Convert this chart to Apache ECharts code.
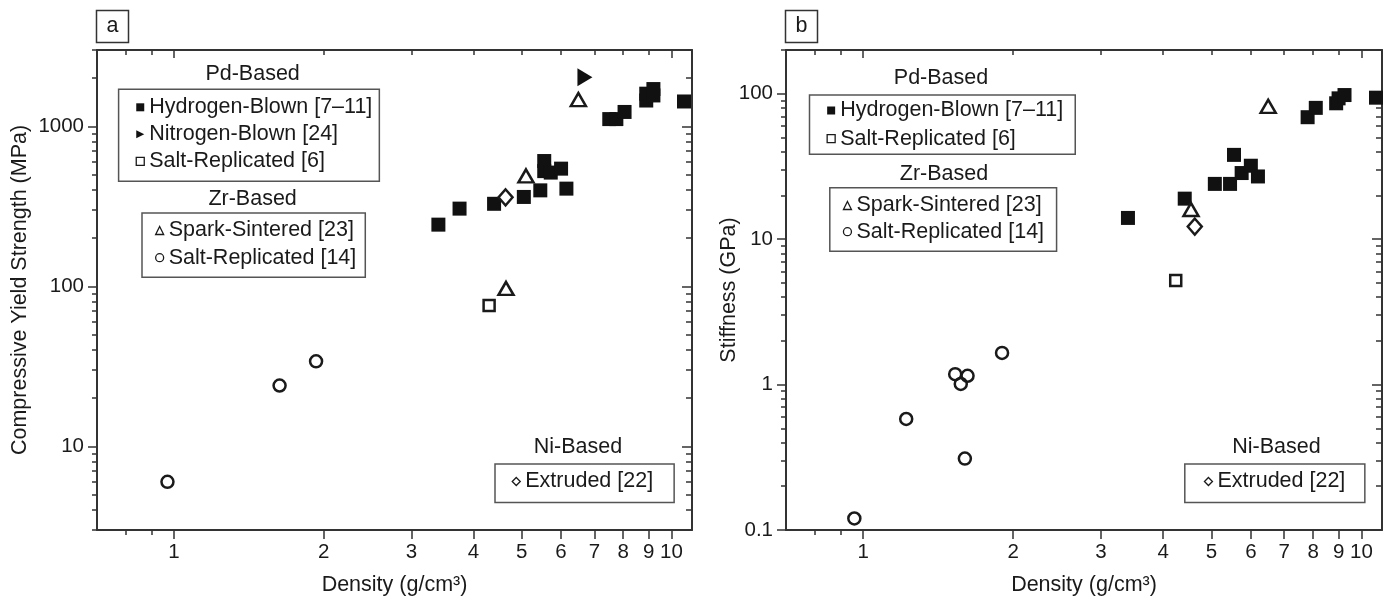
<!DOCTYPE html>
<html>
<head>
<meta charset="utf-8">
<script src="https://cdn.jsdelivr.net/npm/echarts@6/dist/echarts.min.js"></script>
<style>
  html, body { margin: 0; padding: 0; background: #fff; }
  #chart { width: 1390px; height: 597px; }
</style>
</head>
<body>
<div id="chart"></div>
<script>
// tick values shared by both panels
const densityRange = [0.7, 11];
const densityLabels = [1, 2, 3, 4, 5, 6, 7, 8, 9, 10];
const densityMinor = [0.8, 0.9];
const densityTopMinor = [0.8, 0.9, 2, 3, 4, 5, 6, 7, 8, 9];
const densityTopMajor = [1, 10];

const strengthRange = [3, 3000];
const strengthMajor = [10, 100, 1000];
const strengthMinor = [3, 4, 5, 6, 7, 8, 9, 20, 30, 40, 50, 60, 70, 80, 90,
  200, 300, 400, 500, 600, 700, 800, 900, 2000, 3000];

const stiffnessRange = [0.1, 200];
const stiffnessMajor = [0.1, 1, 10, 100];
const stiffnessMinor = [0.2, 0.3, 0.4, 0.5, 0.6, 0.7, 0.8, 0.9, 2, 3, 4, 5, 6, 7, 8, 9,
  20, 30, 40, 50, 60, 70, 80, 90, 200];

// panel a: compressive yield strength (MPa) vs density (g/cm3)
const strengthHydrogen = [[3.4, 243], [3.75, 306], [4.4, 328], [5.05, 362], [5.45, 398],
  [5.55, 607], [5.55, 525], [5.72, 514], [6.0, 544], [6.15, 408],
  [7.5, 1110], [7.75, 1110], [8.05, 1230], [8.9, 1450], [8.9, 1600],
  [9.2, 1560], [9.2, 1710], [10.6, 1430]];
const strengthNitrogen = [[6.7, 2030]];
const strengthPdSalt = [[4.3, 76]];
const strengthSpark = [[4.65, 97], [5.1, 490], [6.5, 1470]];
const strengthZrSalt = [[0.97, 6.0], [1.63, 24], [1.93, 34]];
const strengthExtruded = [[4.64, 360]];

// panel b: stiffness (GPa) vs density (g/cm3)
const stiffnessHydrogen = [[3.4, 14], [4.42, 19], [5.08, 24], [5.45, 24], [5.55, 38],
  [5.75, 28.5], [6.0, 32], [6.2, 27], [7.8, 69], [8.1, 80],
  [8.9, 86], [9.0, 93], [9.25, 98], [10.7, 94]];
const stiffnessPdSalt = [[4.24, 5.2]];
const stiffnessSpark = [[4.55, 16], [6.5, 82]];
const stiffnessZrSalt = [[0.96, 0.12], [1.22, 0.58], [1.53, 1.18], [1.57, 1.01],
  [1.62, 1.15], [1.6, 0.31], [1.9, 1.65]];
const stiffnessExtruded = [[4.63, 12.2]];

const FONT = "'Liberation Sans', Arial, sans-serif";
const INK = '#1a1a1a';
const FRAME = '#333';
const TEXT_SIZE = 21.5;

const markers = {
  'Hydrogen-Blown [7–11]': { symbol: 'rect', symbolSize: 14, itemStyle: { color: '#111', opacity: 1 } },
  'Nitrogen-Blown [24]': { symbol: 'triangle', symbolSize: [18, 15], symbolRotate: -90, itemStyle: { color: '#111', opacity: 1 } },
  'Salt-Replicated [6]': { symbol: 'rect', symbolSize: 11, itemStyle: { color: '#fff', borderColor: INK, borderWidth: 2.5, opacity: 1 } },
  'Spark-Sintered [23]': { symbol: 'triangle', symbolSize: [15, 13], itemStyle: { color: '#fff', borderColor: INK, borderWidth: 2.5, opacity: 1 } },
  'Salt-Replicated [14]': { symbol: 'circle', symbolSize: 12, itemStyle: { color: 'rgba(255,255,255,0)', borderColor: INK, borderWidth: 2.5, opacity: 1 } },
  'Extruded [22]': { symbol: 'diamond', symbolSize: [14, 16], itemStyle: { color: '#fff', borderColor: INK, borderWidth: 2.5, opacity: 1 } },
};

const legendIcons = {
  'Hydrogen-Blown [7–11]': { icon: 'rect', itemStyle: { color: '#111', borderWidth: 0, opacity: 1 } },
  'Nitrogen-Blown [24]': { icon: 'path://M0,0L10,5L0,10Z', itemStyle: { color: '#111', borderWidth: 0, opacity: 1 } },
  'Salt-Replicated [6]': { icon: 'rect', itemStyle: { color: '#fff', borderColor: INK, borderWidth: 1.3, opacity: 1 } },
  'Spark-Sintered [23]': { icon: 'triangle', itemStyle: { color: '#fff', borderColor: INK, borderWidth: 1.3, opacity: 1 } },
  'Salt-Replicated [14]': { icon: 'circle', itemStyle: { color: '#fff', borderColor: INK, borderWidth: 1.3, opacity: 1 } },
  'Extruded [22]': { icon: 'diamond', itemStyle: { color: '#fff', borderColor: INK, borderWidth: 1.3, opacity: 1 } },
};

function ticks(values, length, inside) {
  return { show: true, customValues: values, length, inside, lineStyle: { color: FRAME, width: 1.5 } };
}

function baseAxis(gridIndex, range, position, extra) {
  return Object.assign({
    type: 'log', logBase: 10, gridIndex, position, min: range[0], max: range[1],
    splitLine: { show: false },
    axisLabel: { show: false },
    axisLine: { show: false, onZero: false, lineStyle: { color: FRAME, width: 2 } },
    axisTick: { show: false },
    silent: true,
  }, extra);
}

function densityAxes(gridIndex) {
  return [
    baseAxis(gridIndex, densityRange, 'bottom', {
      axisLine: { show: true, onZero: false, lineStyle: { color: FRAME, width: 2 } },
      axisTick: ticks(densityLabels, 9, false),
      axisLabel: {
        show: true, customValues: densityLabels, formatter: (v) => String(v),
        margin: 12, fontSize: 20.5, color: INK, fontFamily: FONT,
      },
      name: 'Density (g/cm³)', nameLocation: 'middle', nameGap: 44, nameMoveOverlap: false,
      nameTextStyle: { fontSize: TEXT_SIZE, color: INK, fontFamily: FONT },
    }),
    baseAxis(gridIndex, densityRange, 'bottom', { axisTick: ticks(densityMinor, 5, false) }),
    baseAxis(gridIndex, densityRange, 'top', {
      axisLine: { show: true, onZero: false, lineStyle: { color: FRAME, width: 2 } },
      axisTick: ticks(densityTopMinor, 5, true),
    }),
    baseAxis(gridIndex, densityRange, 'top', { axisTick: ticks(densityTopMajor, 8, true) }),
  ];
}

function valueAxes(gridIndex, range, major, minor, name, nameGap) {
  return [
    baseAxis(gridIndex, range, 'left', {
      axisLine: { show: true, onZero: false, lineStyle: { color: FRAME, width: 2 } },
      axisTick: ticks(major, 9, false),
      axisLabel: {
        show: true, customValues: major, formatter: (v) => String(v),
        margin: 13, fontSize: 20.5, color: INK, fontFamily: FONT,
      },
      name, nameLocation: 'middle', nameGap, nameMoveOverlap: false,
      nameTextStyle: { fontSize: TEXT_SIZE, color: INK, fontFamily: FONT },
    }),
    baseAxis(gridIndex, range, 'left', { axisTick: ticks(minor, 5, false) }),
    baseAxis(gridIndex, range, 'right', {
      axisLine: { show: true, onZero: false, lineStyle: { color: FRAME, width: 2 } },
      axisTick: ticks(minor, 6, true),
    }),
    baseAxis(gridIndex, range, 'right', { axisTick: ticks(major, 10, true) }),
  ];
}

function scatter(name, data, gridIndex) {
  return Object.assign({
    type: 'scatter', name, data,
    xAxisIndex: gridIndex * 4, yAxisIndex: gridIndex * 4,
    emphasis: { disabled: true },
  }, markers[name]);
}

function legendBox(names, left, top, padding, itemGap) {
  return {
    orient: 'vertical', left, top, padding, itemGap,
    itemWidth: 8, itemHeight: 8, selectedMode: false,
    borderColor: '#555', borderWidth: 1.5, backgroundColor: '#fff',
    textStyle: { fontSize: TEXT_SIZE, color: INK, fontFamily: FONT },
    data: names.map((n) => Object.assign({ name: n }, legendIcons[n])),
  };
}

function groupTitle(text, x, y) {
  return {
    text, left: x, top: y, padding: 0, textAlign: 'center', textVerticalAlign: 'middle',
    textStyle: { fontSize: TEXT_SIZE, fontWeight: 'normal', color: INK, fontFamily: FONT },
  };
}

function panelTag(text, x, y) {
  return {
    text, left: x, top: y, padding: [5.5, 10.5, 5.5, 10.5],
    borderColor: FRAME, borderWidth: 1.5,
    textStyle: { fontSize: TEXT_SIZE, fontWeight: 'normal', color: INK, fontFamily: FONT },
  };
}

const chart = echarts.init(document.getElementById('chart'), null, { renderer: 'canvas' });

chart.setOption({
  animation: false,
  backgroundColor: '#fff',
  textStyle: { fontFamily: FONT },
  title: [
    panelTag('a', 96, 10),
    panelTag('b', 785, 10),
    groupTitle('Pd-Based', 252.6, 74),
    groupTitle('Zr-Based', 252.6, 199),
    groupTitle('Ni-Based', 578, 446.7),
    groupTitle('Pd-Based', 941, 78.3),
    groupTitle('Zr-Based', 944, 174),
    groupTitle('Ni-Based', 1276.4, 446.7),
  ],
  legend: [
    legendBox(['Hydrogen-Blown [7–11]', 'Nitrogen-Blown [24]', 'Salt-Replicated [6]'], 118.6, 89.3, [7, 7, 9, 17], 5),
    legendBox(['Spark-Sintered [23]', 'Salt-Replicated [14]'], 142, 213, [6.5, 9, 8.5, 13], 5.2),
    legendBox(['Extruded [22]'], 495, 464, [6.5, 21, 10, 16.6], 5),
    legendBox(['Hydrogen-Blown [7–11]', 'Salt-Replicated [6]'], 809.5, 95, [4.5, 12, 4.5, 17], 6.2),
    legendBox(['Spark-Sintered [23]', 'Salt-Replicated [14]'], 829.8, 187.7, [6.8, 12.5, 8.5, 13], 4.2),
    legendBox(['Extruded [22]'], 1184.8, 464, [6.5, 19.5, 10, 19], 5),
  ],
  grid: [
    { left: 97, top: 50, width: 595, height: 480, outerBoundsMode: 'none' },
    { left: 786, top: 50, width: 596, height: 480, outerBoundsMode: 'none' },
  ],
  xAxis: [...densityAxes(0), ...densityAxes(1)],
  yAxis: [
    ...valueAxes(0, strengthRange, strengthMajor, strengthMinor, 'Compressive Yield Strength (MPa)', 66),
    ...valueAxes(1, stiffnessRange, stiffnessMajor, stiffnessMinor, 'Stiffness (GPa)', 46),
  ],
  series: [
    scatter('Hydrogen-Blown [7–11]', strengthHydrogen, 0),
    scatter('Nitrogen-Blown [24]', strengthNitrogen, 0),
    scatter('Salt-Replicated [6]', strengthPdSalt, 0),
    scatter('Spark-Sintered [23]', strengthSpark, 0),
    scatter('Salt-Replicated [14]', strengthZrSalt, 0),
    scatter('Extruded [22]', strengthExtruded, 0),
    scatter('Hydrogen-Blown [7–11]', stiffnessHydrogen, 1),
    scatter('Salt-Replicated [6]', stiffnessPdSalt, 1),
    scatter('Spark-Sintered [23]', stiffnessSpark, 1),
    scatter('Salt-Replicated [14]', stiffnessZrSalt, 1),
    scatter('Extruded [22]', stiffnessExtruded, 1),
  ],
});

window.addEventListener('resize', () => chart.resize());
</script>
</body>
</html>
